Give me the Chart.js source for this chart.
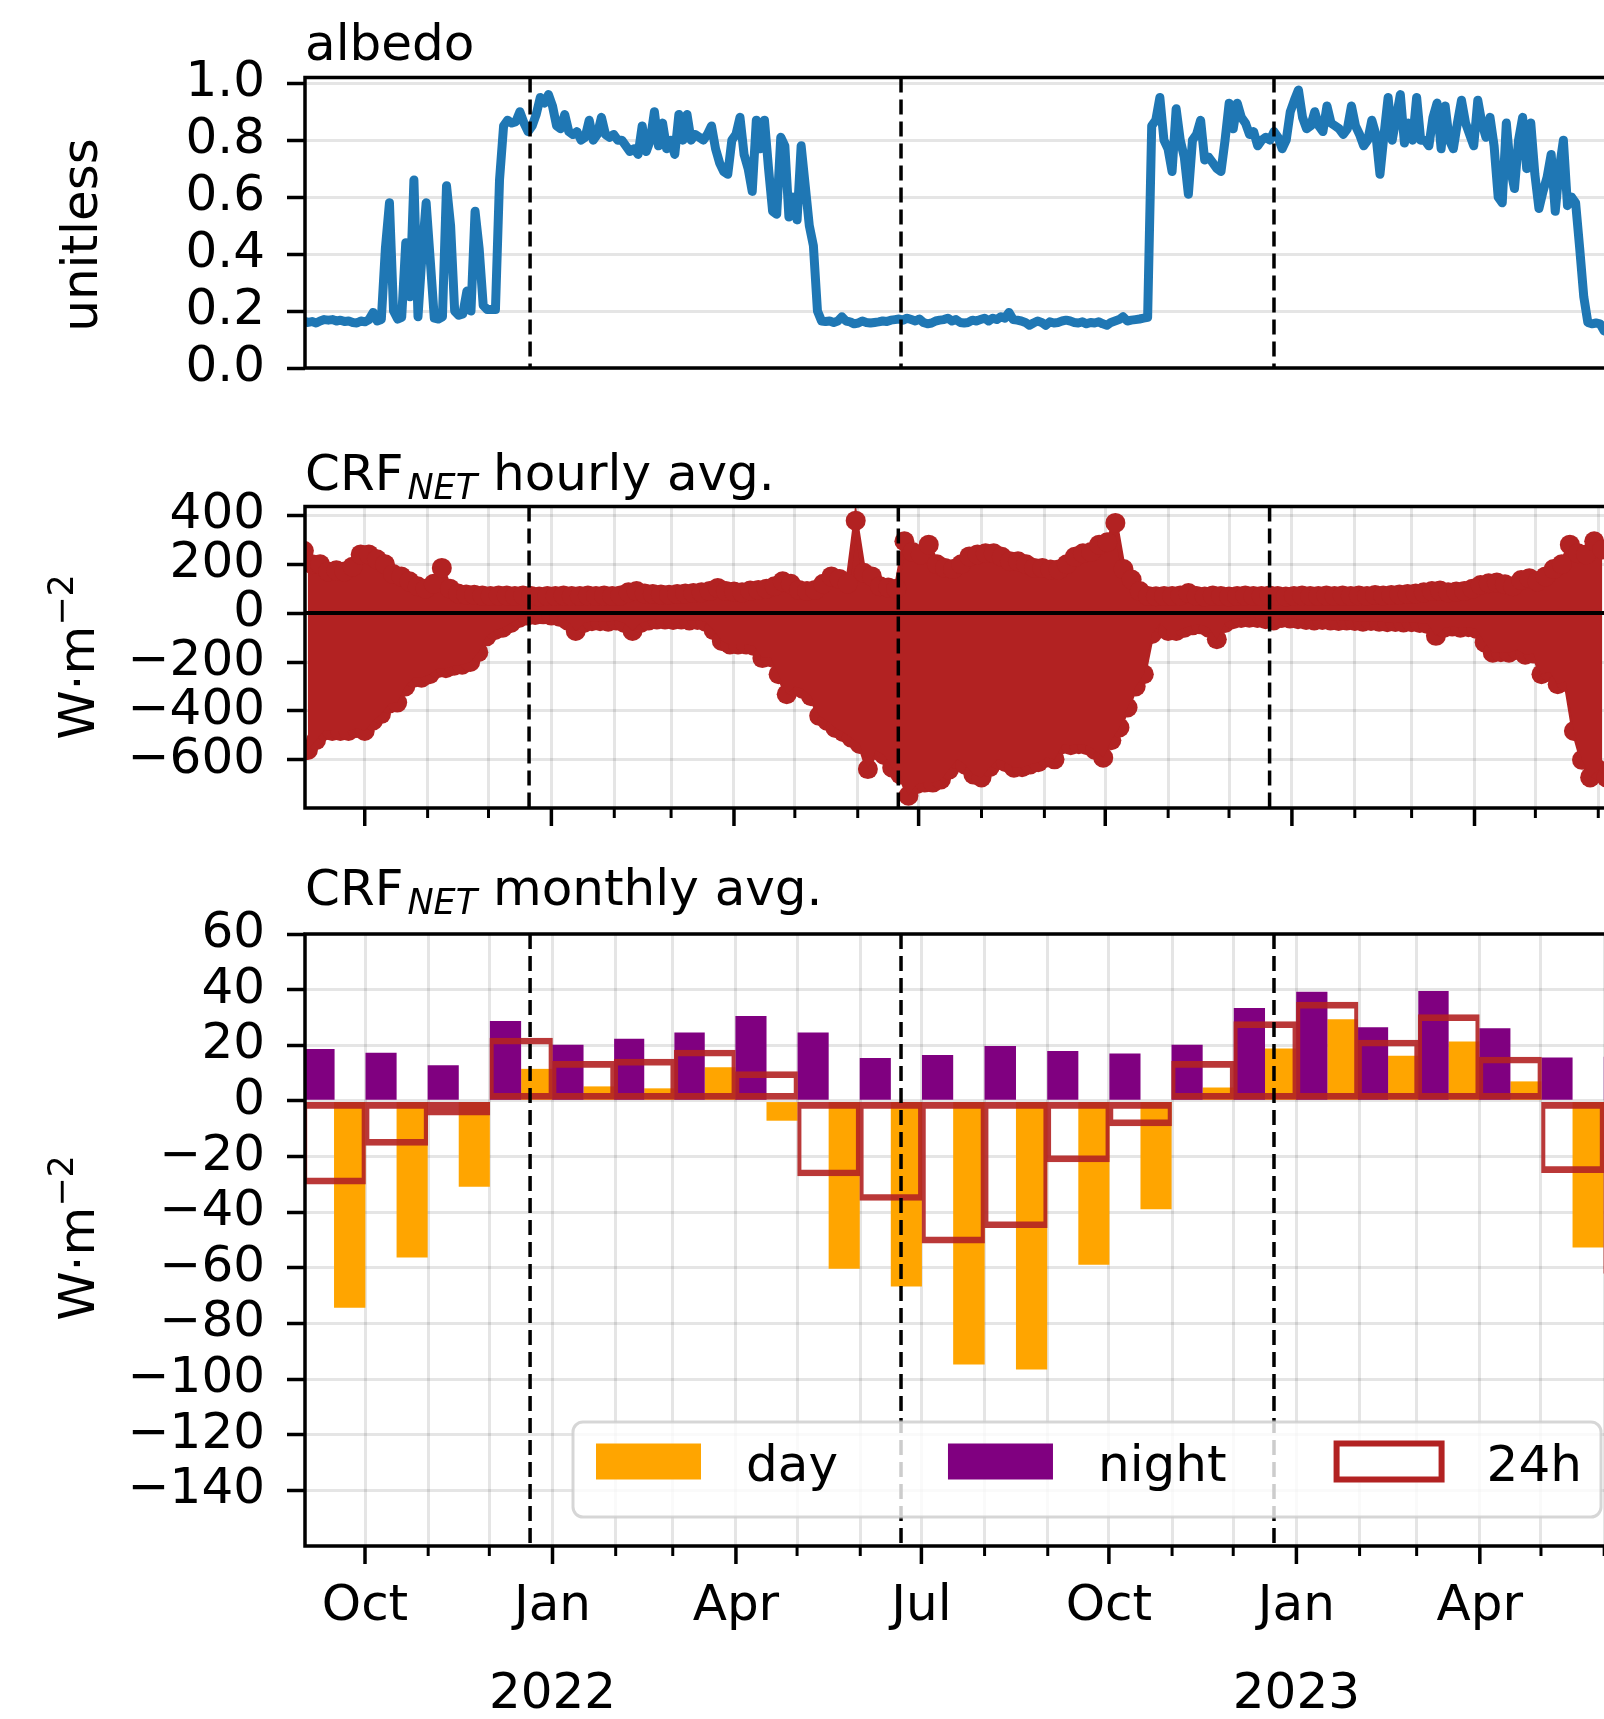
<!DOCTYPE html>
<html>
<head>
<meta charset="utf-8">
<title>albedo / CRF NET</title>
<script src="https://cdn.jsdelivr.net/npm/chart.js@4.4.1/dist/chart.umd.min.js"></script>
<style>
	html, body { margin: 0; padding: 0; overflow: hidden; background: #ffffff; }
	canvas { position: absolute; left: 0; }
</style>
</head>
<body>
<canvas id="albedo" width="1632" height="420" style="top: 0px;"></canvas>
<canvas id="hourly" width="1632" height="440" style="top: 420px;"></canvas>
<canvas id="monthly" width="1632" height="859" style="top: 860px;"></canvas>
<script>
//
// Données.
//	Note : les jours sont comptés à partir du 1er septembre 2021 (jour 0).
//
const albedo_step = 2;										// Une valeur tous les 2 jours.
const albedo = [
	0.165, 0.160, 0.163, 0.158, 0.165, 0.170, 0.168, 0.170, 0.165, 0.168,
	0.163, 0.165, 0.160, 0.158, 0.165, 0.162, 0.170, 0.195, 0.165, 0.170,
	0.420, 0.580, 0.200, 0.172, 0.178, 0.440, 0.250, 0.660, 0.180, 0.400,
	0.580, 0.380, 0.175, 0.172, 0.180, 0.640, 0.500, 0.200, 0.185, 0.190,
	0.270, 0.200, 0.550, 0.420, 0.220, 0.205, 0.205, 0.205, 0.660, 0.850,
	0.870, 0.860, 0.865, 0.900, 0.860, 0.830, 0.850, 0.890, 0.950, 0.930,
	0.960, 0.920, 0.850, 0.840, 0.890, 0.830, 0.820, 0.830, 0.800, 0.810,
	0.870, 0.800, 0.820, 0.880, 0.820, 0.810, 0.820, 0.800, 0.800, 0.780,
	0.760, 0.770, 0.750, 0.850, 0.760, 0.800, 0.900, 0.780, 0.860, 0.770,
	0.800, 0.750, 0.890, 0.800, 0.890, 0.800, 0.820, 0.810, 0.800, 0.820,
	0.850, 0.770, 0.720, 0.690, 0.680, 0.800, 0.820, 0.880, 0.750, 0.700,
	0.620, 0.870, 0.770, 0.870, 0.700, 0.550, 0.540, 0.810, 0.780, 0.530,
	0.600, 0.520, 0.780, 0.640, 0.500, 0.430, 0.200, 0.165, 0.163, 0.165,
	0.160, 0.165, 0.180, 0.165, 0.162, 0.155, 0.158, 0.165, 0.160, 0.158,
	0.160, 0.162, 0.165, 0.163, 0.168, 0.170, 0.172, 0.168, 0.175, 0.170,
	0.165, 0.172, 0.160, 0.155, 0.158, 0.165, 0.168, 0.170, 0.175, 0.165,
	0.170, 0.160, 0.158, 0.160, 0.168, 0.165, 0.170, 0.175, 0.165, 0.175,
	0.170, 0.180, 0.175, 0.195, 0.170, 0.168, 0.165, 0.160, 0.150, 0.158,
	0.165, 0.160, 0.150, 0.162, 0.158, 0.160, 0.165, 0.168, 0.165, 0.160,
	0.158, 0.162, 0.155, 0.160, 0.158, 0.162, 0.155, 0.150, 0.160, 0.165,
	0.170, 0.180, 0.165, 0.168, 0.170, 0.172, 0.175, 0.178, 0.850, 0.870,
	0.950, 0.800, 0.770, 0.690, 0.910, 0.800, 0.740, 0.610, 0.800, 0.820,
	0.870, 0.730, 0.740, 0.720, 0.700, 0.690, 0.800, 0.930, 0.840, 0.930,
	0.880, 0.860, 0.820, 0.830, 0.780, 0.800, 0.810, 0.800, 0.830, 0.810,
	0.770, 0.800, 0.900, 0.940, 0.976, 0.880, 0.840, 0.850, 0.900, 0.850,
	0.830, 0.920, 0.860, 0.850, 0.840, 0.820, 0.840, 0.920, 0.850, 0.820,
	0.780, 0.800, 0.870, 0.820, 0.680, 0.820, 0.950, 0.800, 0.880, 0.960,
	0.790, 0.860, 0.800, 0.950, 0.800, 0.800, 0.780, 0.880, 0.930, 0.770,
	0.920, 0.800, 0.770, 0.860, 0.940, 0.860, 0.820, 0.780, 0.940, 0.860,
	0.810, 0.880, 0.780, 0.600, 0.580, 0.860, 0.700, 0.630, 0.800, 0.880,
	0.700, 0.860, 0.680, 0.560, 0.620, 0.670, 0.750, 0.550, 0.700, 0.800,
	0.570, 0.600, 0.580, 0.420, 0.250, 0.160, 0.155, 0.158, 0.155, 0.130
];

// CRF NET horaire : extrêmes relevés tous les 4 jours (max au jour j, min au jour j + 2).
const hourly_step = 4;
const hourly_max = [
	255, 200, 200, 170, 175, 170, 190, 240, 240, 220,
	200, 160, 150, 130, 110, 100, 120, 185, 100, 80,
	76, 75, 72, 70, 72, 72, 70, 72, 70, 68,
	70, 70, 72, 70, 70, 72, 70, 72, 70, 72,
	85, 90, 80, 78, 76, 75, 78, 80, 82, 85,
	90, 103, 90, 88, 85, 92, 95, 100, 110, 130,
	120, 95, 90, 95, 120, 150, 140, 120, 378, 165,
	150, 110, 105, 100, 294, 250, 240, 280, 200, 185,
	180, 200, 232, 240, 245, 245, 230, 212, 212, 200,
	185, 185, 178, 178, 200, 230, 245, 250, 280, 290,
	369, 180, 137, 90, 70, 69, 70, 70, 72, 82,
	70, 68, 72, 70, 68, 70, 72, 70, 70, 72,
	70, 68, 70, 72, 70, 70, 72, 70, 72, 70,
	72, 70, 74, 72, 74, 76, 78, 80, 85, 90,
	92, 85, 88, 90, 100, 115, 122, 125, 118, 110,
	135, 143, 130, 150, 180, 200, 280, 245, 240, 294,
	260
];
const hourly_min = [
	-560, -520, -480, -482, -482, -482, -470, -482, -440, -413,
	-370, -366, -300, -264, -264, -250, -225, -225, -215, -211,
	-200, -160, -95, -70, -60, -40, -20, -10, -8, -5,
	-10, -15, -30, -73, -40, -33, -33, -35, -30, -40,
	-73, -40, -30, -26, -26, -28, -26, -30, -28, -35,
	-70, -114, -128, -128, -128, -135, -184, -180, -250, -332,
	-300, -310, -340, -420, -441, -470, -487, -510, -535, -638,
	-560, -580, -632, -660, -747, -700, -693, -693, -680, -640,
	-597, -620, -660, -672, -630, -597, -610, -632, -630, -619,
	-610, -590, -598, -536, -540, -536, -540, -560, -591, -520,
	-468, -386, -300, -250, -85, -40, -73, -73, -60, -50,
	-46, -60, -107, -40, -25, -20, -19, -20, -25, -30,
	-20, -22, -25, -28, -30, -28, -30, -32, -30, -32,
	-35, -32, -35, -37, -36, -38, -37, -40, -45, -93,
	-60, -55, -60, -58, -65, -120, -162, -160, -162, -150,
	-170, -165, -250, -240, -291, -280, -482, -600, -672, -640,
	-672
];

// CRF NET moyen mensuel (W·m-2).
const months = [
	"2021-09", "2021-10", "2021-11", "2021-12", "2022-01", "2022-02", "2022-03", "2022-04",
	"2022-05", "2022-06", "2022-07", "2022-08", "2022-09", "2022-10", "2022-11", "2022-12",
	"2023-01", "2023-02", "2023-03", "2023-04", "2023-05", "2023-06"
];
const monthly_day = [ -74.2, -56.2, -30.7, 11.4, 5.1, 4.4, 12.0, -7.0, -60.2, -66.6, -94.6, -96.4, -58.8, -38.8, 4.7, 18.7, 29.2, 16.1, 21.2, 6.9, -52.6, null ];
const monthly_night = [ 18.5, 17.2, 12.7, 28.6, 20.1, 22.2, 24.5, 30.4, 24.5, 15.3, 16.4, 19.6, 17.8, 16.9, 20.1, 33.3, 39.1, 26.4, 39.4, 26.0, 15.5, 15.8 ];
const monthly_24h = [ -29.9, -16.0, -5.1, 22.6, 14.2, 15.0, 18.3, 10.5, -27.0, -35.8, -51.1, -45.6, -21.9, -9.0, 14.2, 28.5, 35.5, 21.9, 31.0, 15.8, -25.8, -62.0 ];

// Solstices (lignes pointillées) et libellés des axes.
const solstices = [ "2021-12-21", "2022-06-21", "2022-12-21" ];
const quarter_labels = [ "Jan", "Apr", "Jul", "Oct" ];
const albedo_ticks = [ 0, 0.2, 0.4, 0.6, 0.8, 1.0 ];
const hourly_ticks = [ -600, -400, -200, 0, 200, 400 ];
const monthly_ticks = [ -140, -120, -100, -80, -60, -40, -20, 0, 20, 40, 60 ];

//
// Outils de dates.
//
const origin = Date.UTC( 2021, 8, 1 );
const day_of = ( year, month, day ) => ( Date.UTC( year, month, day ) - origin ) / 86400000;
const x_min = 0.56;
const x_max = 649.7;

const solstice_days = solstices.map( ( s ) => ( Date.parse( s ) - origin ) / 86400000 );

const month_ticks = [];
for ( let m = 0; m <= 22; m++ )
{
	const year = 2021 + Math.floor( ( 8 + m ) / 12 );
	const month = ( 8 + m ) % 12;
	const day = day_of( year, month, 1 );

	if ( day >= x_min && day <= x_max )
	{
		month_ticks.push( { day, year, month } );
	}
}

const month_spans = months.map( ( m ) =>
{
	const [ year, month ] = m.split( "-" ).map( Number );
	const start = day_of( year, month - 1, 1 );

	return { start, len: day_of( year, month, 1 ) - start };
} );

//
// Réglages communs.
//
const FONT = "'DejaVu Sans'";
const grid_color = "rgba(0, 0, 0, 0.1)";
const firebrick = "#b22222";

Chart.defaults.font.family = FONT;
Chart.defaults.font.size = 50;
Chart.defaults.color = "#000000";

function x_label( value )
{
	const tick = month_ticks.find( ( t ) => Math.abs( t.day - value ) < 0.01 );

	if ( !tick || tick.month % 3 !== 0 )
	{
		return "";
	}

	const name = quarter_labels[ tick.month / 3 ];

	return tick.month === 0 ? [ name, String( tick.year ) ] : name;
}

function x_axis( show_labels, height )
{
	return {
		type: "linear",
		display: height !== null,
		min: x_min,
		max: x_max,
		offset: false,
		afterBuildTicks: ( scale ) => { scale.ticks = month_ticks.map( ( t ) => ( { value: t.day } ) ); },
		afterFit: ( scale ) => { scale.height = height || 0; },
		grid: { color: grid_color, lineWidth: 3, drawTicks: false, offset: false },
		border: { display: false },
		ticks: {
			display: show_labels,
			autoSkip: false,
			maxRotation: 0,
			minRotation: 0,
			padding: 17.5,
			color: "#000000",
			font: { size: 50, lineHeight: 1.76 },
			callback: ( value ) => x_label( value )
		}
	};
}

function y_axis( min, max, values, format )
{
	return {
		min: min,
		max: max,
		stacked: false,
		afterBuildTicks: ( scale ) => { scale.ticks = values.map( ( v ) => ( { value: v } ) ); },
		afterFit: ( scale ) => { scale.width = 305; },
		grid: { color: grid_color, lineWidth: 3, tickColor: "#000000", tickLength: 18, tickWidth: 3.5, drawTicks: true },
		border: { display: false },
		ticks: { autoSkip: false, padding: 22, color: "#000000", font: { size: 50 }, callback: format }
	};
}

const signed = ( v ) => String( v ).replace( "-", "\u2212" );

//
// Textes : titre au-dessus du cadre et titre vertical de l'axe Y.
//
function draw_title( ctx, parts, x, y )
{
	ctx.save();
	ctx.fillStyle = "#000000";
	ctx.textAlign = "left";
	ctx.textBaseline = "alphabetic";

	for ( const part of parts )
	{
		ctx.font = part.sub ? "italic 35px " + FONT : "50px " + FONT;
		x += part.sub ? 4 : 0;
		ctx.fillText( part.text, x, y + ( part.sub ? 9 : 0 ) );
		x += ctx.measureText( part.text ).width;
	}

	ctx.restore();
}

function draw_ylabel( ctx, parts, baseline_x, center_y )
{
	ctx.save();
	ctx.fillStyle = "#000000";
	ctx.textAlign = "left";
	ctx.textBaseline = "alphabetic";

	let width = 0;
	for ( const part of parts )
	{
		ctx.font = ( part.sup ? "35px " : "50px " ) + FONT;
		width += ctx.measureText( part.text ).width;
	}

	ctx.translate( baseline_x, center_y );
	ctx.rotate( -Math.PI / 2 );

	let u = -width / 2;
	for ( const part of parts )
	{
		ctx.font = ( part.sup ? "35px " : "50px " ) + FONT;
		ctx.fillText( part.text, u, part.sup ? -21 : 0 );
		u += ctx.measureText( part.text ).width;
	}

	ctx.restore();
}

function rounded_rect( ctx, x, y, w, h, r )
{
	ctx.beginPath();
	ctx.moveTo( x + r, y );
	ctx.arcTo( x + w, y, x + w, y + h, r );
	ctx.arcTo( x + w, y + h, x, y + h, r );
	ctx.arcTo( x, y + h, x, y, r );
	ctx.arcTo( x, y, x + w, y, r );
	ctx.closePath();
}

function draw_legend( chart )
{
	const ctx = chart.ctx;
	const area = chart.chartArea;
	const left = area.left + 268;
	const top = area.bottom - 124;

	rounded_rect( ctx, left, top, 1028, 95, 10 );
	ctx.fillStyle = "rgba(255, 255, 255, 0.8)";
	ctx.fill();
	ctx.strokeStyle = "rgba(204, 204, 204, 0.8)";
	ctx.lineWidth = 3;
	ctx.stroke();

	// Ordre de la légende : day, night, 24h.
	const items = [ "day", "night", "24h" ].map( ( name ) => chart.data.datasets.find( ( d ) => d.label === name ) );

	let x = left + 23;
	ctx.font = "50px " + FONT;
	ctx.textBaseline = "alphabetic";
	ctx.textAlign = "left";

	for ( const item of items )
	{
		if ( item.label === "24h" )
		{
			ctx.fillStyle = "#ffffff";
			ctx.fillRect( x, top + 21.5, 105, 36 );
			ctx.strokeStyle = firebrick;
			ctx.lineWidth = 6;
			ctx.strokeRect( x, top + 21.5, 105, 36 );
		}
		else
		{
			ctx.fillStyle = item.backgroundColor;
			ctx.fillRect( x, top + 21.5, 105, 36 );
		}

		ctx.fillStyle = "#000000";
		ctx.fillText( item.label, x + 150, top + 59 );
		x += 150 + ctx.measureText( item.label ).width + 110;
	}
}

//
// Greffon : pointillés des solstices, ligne du zéro, graduations X,
//	cadre, légende et textes.
//
const decor_plugin = {
	id: "decor",
	afterDatasetsDraw( chart, args, opts )
	{
		const ctx = chart.ctx;
		const area = chart.chartArea;
		const x = chart.scales.x;
		const y = chart.scales.y;

		ctx.save();
		ctx.strokeStyle = "#000000";
		ctx.lineCap = "butt";

		if ( opts.zero_line )
		{
			const py = y.getPixelForValue( 0 );
			ctx.lineWidth = 4;
			ctx.beginPath();
			ctx.moveTo( area.left, py );
			ctx.lineTo( area.right, py );
			ctx.stroke();
		}

		ctx.lineWidth = 3.5;
		ctx.setLineDash( [ 15, 7 ] );
		for ( const day of solstice_days )
		{
			const px = x.getPixelForValue( day );
			ctx.beginPath();
			ctx.moveTo( px, area.top );
			ctx.lineTo( px, area.bottom );
			ctx.stroke();
		}
		ctx.setLineDash( [] );

		if ( opts.x_ticks )
		{
			for ( const tick of month_ticks )
			{
				const major = tick.month % 3 === 0;
				const px = x.getPixelForValue( tick.day );
				ctx.lineWidth = major ? 3.5 : 3;
				ctx.beginPath();
				ctx.moveTo( px, area.bottom );
				ctx.lineTo( px, area.bottom + ( major ? 18 : 10 ) );
				ctx.stroke();
			}
		}

		ctx.lineWidth = 3.5;
		ctx.strokeRect( area.left, area.top, area.width, area.height );

		if ( opts.legend )
		{
			draw_legend( chart );
		}

		ctx.restore();

		draw_title( ctx, opts.title, area.left, opts.title_y );
		draw_ylabel( ctx, opts.ylabel, opts.ylabel_x, opts.ylabel_y );
	}
};

const base_options = {
	responsive: false,
	animation: false,
	events: [],
	devicePixelRatio: 1
};

const unit_label = [ { text: "W\u00b7m" }, { text: "\u22122", sup: true } ];

//
// Graphique 1 : albédo.
//
new Chart( document.getElementById( "albedo" ),
	{
		type: "line",
		data: {
			datasets: [
				{
					label: "albedo",
					data: albedo.map( ( v, i ) => ( { x: i * albedo_step, y: v } ) ),
					borderColor: "#1f77b4",
					borderWidth: 9,
					pointRadius: 0,
					tension: 0,
					borderJoinStyle: "round",
					borderCapStyle: "round",
					clip: 0
				}
			]
		},
		options: {
			...base_options,
			layout: { padding: { top: 77.5, bottom: 38.5, left: 0, right: 4 } },
			plugins: {
				legend: { display: false },
				tooltip: { enabled: false },
				decor: {
					title: [ { text: "albedo" } ],
					title_y: 60,
					ylabel: [ { text: "unitless" } ],
					ylabel_x: 97,
					ylabel_y: 235
				}
			},
			scales: {
				x: x_axis( false, null ),
				y: y_axis( 0, 1.02, albedo_ticks, ( v ) => v.toFixed( 1 ) )
			}
		},
		plugins: [ decor_plugin ]
	} );

//
// Graphique 2 : CRF NET horaire.
//	L'enveloppe (max / min) est remplie entre les deux séries.
//
const hourly_style = {
	borderColor: firebrick,
	backgroundColor: firebrick,
	borderWidth: 5,
	pointRadius: 10,
	pointBorderWidth: 0,
	pointBackgroundColor: firebrick,
	tension: 0,
	clip: 0
};

new Chart( document.getElementById( "hourly" ),
	{
		type: "line",
		data: {
			datasets: [
				{
					...hourly_style,
					label: "max",
					data: hourly_max.map( ( v, i ) => ( { x: i * hourly_step, y: v } ) ),
					fill: "+1"
				},
				{
					...hourly_style,
					label: "min",
					data: hourly_min.map( ( v, i ) => ( { x: i * hourly_step + hourly_step / 2, y: v } ) ),
					fill: false
				}
			]
		},
		options: {
			...base_options,
			layout: { padding: { top: 86.5, bottom: 51, left: 0, right: 4 } },
			plugins: {
				legend: { display: false },
				tooltip: { enabled: false },
				filler: { propagate: false },
				decor: {
					title: [ { text: "CRF" }, { text: "NET", sub: true }, { text: " hourly avg." } ],
					title_y: 70,
					ylabel: unit_label,
					ylabel_x: 94,
					ylabel_y: 237,
					zero_line: true,
					x_ticks: true
				}
			},
			scales: {
				x: x_axis( false, 0 ),
				y: y_axis( -797, 436, hourly_ticks, signed )
			}
		},
		plugins: [ decor_plugin ]
	} );

//
// Graphique 3 : CRF NET mensuel (jour, nuit et 24 heures).
//
new Chart( document.getElementById( "monthly" ),
	{
		type: "bar",
		data: {
			datasets: [
				{
					label: "24h",
					data: month_spans.map( ( s, i ) => ( { x: s.start + s.len / 2, y: monthly_24h[ i ] } ) ),
					backgroundColor: "rgba(0, 0, 0, 0)",
					borderColor: "rgba(178, 34, 34, 0.9)",
					borderWidth: { top: 6, bottom: 6, left: 3.5, right: 3.5 },
					borderSkipped: false,
					barThickness: "flex",
					categoryPercentage: 1,
					barPercentage: 1,
					stack: "monthly",
					order: 0
				},
				{
					label: "night",
					data: month_spans.map( ( s, i ) => ( { x: s.start + s.len / 4, y: monthly_night[ i ] } ) ),
					backgroundColor: "#800080",
					barThickness: "flex",
					categoryPercentage: 1,
					barPercentage: 0.49,
					stack: "monthly",
					order: 1
				},
				{
					label: "day",
					data: month_spans.map( ( s, i ) => ( { x: s.start + s.len * 3 / 4, y: monthly_day[ i ] } ) ),
					backgroundColor: "#ffa500",
					barThickness: "flex",
					categoryPercentage: 1,
					barPercentage: 0.49,
					stack: "monthly",
					order: 2
				}
			]
		},
		options: {
			...base_options,
			layout: { padding: { top: 74, bottom: 0, left: 0, right: 4 } },
			plugins: {
				legend: { display: false },
				tooltip: { enabled: false },
				decor: {
					title: [ { text: "CRF" }, { text: "NET", sub: true }, { text: " monthly avg." } ],
					title_y: 44.5,
					ylabel: unit_label,
					ylabel_x: 94,
					ylabel_y: 378,
					x_ticks: true,
					legend: true
				}
			},
			scales: {
				x: x_axis( true, 173 ),
				y: y_axis( -160, 60, monthly_ticks, signed )
			}
		},
		plugins: [ decor_plugin ]
	} );
</script>
